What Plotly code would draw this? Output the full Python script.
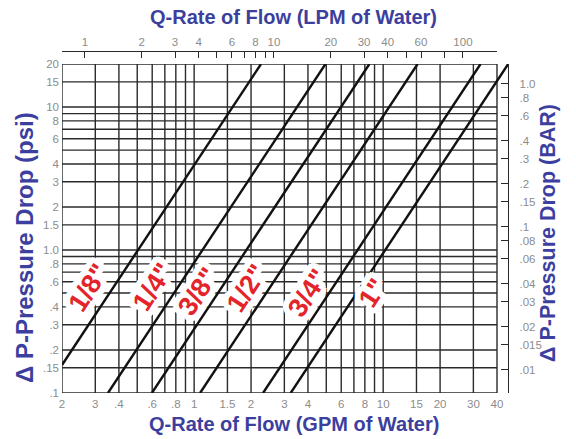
import numpy as np
import plotly.graph_objects as go

GPM_TO_LPM = 3.78541
PSI_TO_BAR = 0.0689476

# chart extents: flow in GPM, pressure drop in psi
q_min, q_max = 0.2, 40
p_min, p_max = 0.1, 20

# pipe sizes and their flow coefficients (dP = (Q / Cv)^2)
sizes = ['1/8"', '1/4"', '3/8"', '1/2"', '3/4"', '1"']
cv = [0.505, 1.107, 1.89, 3.40, 7.32, 10.25]

# grid lines
grid_gpm = [0.2, 0.3, 0.4, 0.5, 0.6, 0.7, 0.8, 0.9, 1, 1.5, 2, 3, 4, 5, 6, 7, 8, 9,
            10, 15, 20, 30, 40]
grid_psi = [0.1, 0.15, 0.2, 0.3, 0.4, 0.5, 0.6, 0.7, 0.8, 0.9, 1, 1.5, 2, 3, 4, 5, 6,
            7, 8, 9, 10, 15, 20]

# tick labels
gpm_ticks = [0.2, 0.3, 0.4, 0.6, 0.8, 1, 1.5, 2, 3, 4, 6, 8, 10, 15, 20, 30, 40]
gpm_labels = ['2', '3', '.4', '.6', '.8', '1', '1.5', '2', '3', '4', '6', '8', '10',
              '15', '20', '30', '40']
psi_ticks = [0.1, 0.15, 0.2, 0.3, 0.4, 0.6, 0.8, 1, 1.5, 2, 3, 4, 6, 8, 10, 15, 20]
psi_labels = ['.1', '.15', '.2', '.3', '.4', '.6', '.8', '1.0', '1.5', '2', '3', '4',
              '6', '8', '10', '15', '20']
lpm_ticks = [1, 2, 3, 4, 5, 6, 7, 8, 9, 10, 20, 30, 40, 50, 60, 80, 100]
lpm_labels = ['1', '2', '3', '4', '', '6', '', '8', '', '10', '20', '30', '40', '',
              '60', '', '100']
bar_ticks = [0.01, 0.015, 0.02, 0.03, 0.04, 0.06, 0.08, 0.1, 0.15, 0.2, 0.3, 0.4,
             0.6, 0.8, 1.0]
bar_labels = ['.01', '.015', '.02', '.03', '.04', '.06', '.08', '.1', '.15', '.2',
              '.3', '.4', '.6', '.8', '1.0']

# where each size label sits: pressure level and sideways offset from its line (px)
label_psi = [0.54, 0.55, 0.51, 0.54, 0.50, 0.50]
label_shift = [-24, -25, -21, -22, -21, 16]

# ---- layout geometry (pixels) ----
W, H = 576, 439
ML, MR, MT, MB = 62, 56, 52, 46
plot_w = W - ML - MR            # 458
plot_h = H - MT - MB            # 341
grid_top_px = 64                # top of the pressure grid
grid_right_px = 497             # right edge of the flow grid (40 GPM)
bar_axis_px = 508               # right-hand BAR scale
x_decade_px = (grid_right_px - ML) / np.log10(q_max / q_min)

y_dom_top = (H - MB - grid_top_px) / plot_h
x_end = np.log10(q_min) + plot_w / x_decade_px

GRID = '#2a2a2a'
BLUE = '#3c3f9e'
GRAY = '#8c8c8c'
RED = '#e3242b'
FONT = 'Liberation Sans, Arial, sans-serif'

fig = go.Figure()

# grid: vertical flow lines and horizontal pressure lines
gx, gy = [], []
for q in grid_gpm:
    gx += [q, q, None]
    gy += [p_min, p_max, None]
for p in grid_psi:
    gx += [q_min, q_max, None]
    gy += [p, p, None]
fig.add_trace(go.Scatter(x=gx, y=gy, mode='lines', line=dict(color=GRID, width=1.4),
                         hoverinfo='skip', showlegend=False))

# pressure-drop lines for each pipe size
for name, c in zip(sizes, cv):
    q0 = max(q_min, c * np.sqrt(p_min))
    q1 = c * np.sqrt(p_max)
    q = np.geomspace(q0, q1, 20)
    fig.add_trace(go.Scatter(x=q, y=(q / c) ** 2, mode='lines', name=name,
                             line=dict(color='#111111', width=2.4),
                             showlegend=False))

# carriers for the LPM and BAR scales
fig.add_trace(go.Scatter(x=[None], y=[None], xaxis='x2', yaxis='y3',
                         showlegend=False, hoverinfo='skip'))
fig.add_trace(go.Scatter(x=[None], y=[None], xaxis='x3', yaxis='y2',
                         showlegend=False, hoverinfo='skip'))

# white halo behind the size labels
halo_pts = []
for r in (2, 4, 6):
    for k in range(16):
        a = 2 * np.pi * k / 16
        halo_pts.append(f'{r * np.cos(a):.1f}px {r * np.sin(a):.1f}px 0 #ffffff')
halo = ', '.join(halo_pts)

annotations = []
for name, c, p, sh in zip(sizes, cv, label_psi, label_shift):
    annotations.append(dict(
        x=np.log10(c * np.sqrt(p)), y=np.log10(p), xref='x', yref='y',
        xanchor='center', yanchor='middle',
        text=f'<b>{name}</b>', showarrow=False, textangle=-57, xshift=sh,
        font=dict(family=FONT, size=27, color=RED, shadow=halo)))


def px_x(px):
    return (px - ML) / plot_w


def px_y(py):
    return (H - MB - py) / plot_h


def title(text, x, y, size, angle=0):
    return dict(text=f'<b>{text}</b>', x=px_x(x), y=px_y(y), xref='paper',
                yref='paper', xanchor='center', yanchor='middle', showarrow=False,
                textangle=angle, font=dict(family=FONT, size=size, color=BLUE))


annotations += [
    title('Q-Rate of Flow (LPM of Water)', 293, 17, 20),
    title('Q-Rate of Flow (GPM of Water)', 294, 424, 20),
    title('\u0394 P-Pressure Drop (psi)', 25, 248, 24, -90),
    title('\u0394 P-Pressure Drop (BAR)', 548, 233, 21.5, -90),
]

tick_font = dict(family=FONT, size=11.5, color=GRAY)

fig.update_layout(
    width=W, height=H, margin=dict(l=ML, r=MR, t=MT, b=MB),
    paper_bgcolor='white', plot_bgcolor='rgba(0,0,0,0)',
    annotations=annotations,
    xaxis=dict(type='log', range=[np.log10(q_min), x_end], domain=[0, 1],
               anchor='y', showgrid=False, zeroline=False, showline=False, ticks='',
               tickvals=gpm_ticks, ticktext=gpm_labels, tickfont=tick_font,
               ticklabelstandoff=2),
    yaxis=dict(type='log', range=[np.log10(p_min), np.log10(p_max)],
               domain=[0, y_dom_top], anchor='x', showgrid=False, zeroline=False,
               showline=False, ticks='', tickvals=psi_ticks, ticktext=psi_labels,
               tickfont=tick_font, ticklabelstandoff=2),
    xaxis2=dict(type='log', anchor='y3', side='top',
                domain=[0, (grid_right_px - ML) / plot_w],
                range=[np.log10(q_min * GPM_TO_LPM), np.log10(q_max * GPM_TO_LPM)],
                showgrid=False, zeroline=False, showline=True, linecolor=GRID,
                linewidth=1.4, ticks='inside', ticklen=6, tickwidth=1.4,
                tickcolor=GRID,
                tickvals=[q_min * GPM_TO_LPM] + lpm_ticks + [q_max * GPM_TO_LPM],
                ticktext=[''] + lpm_labels + [''], tickfont=tick_font),
    yaxis3=dict(domain=[y_dom_top, 1], anchor='x2', visible=False),
    xaxis3=dict(domain=[px_x(grid_right_px), px_x(bar_axis_px)], anchor='y2',
                visible=False),
    yaxis2=dict(type='log', anchor='x3', side='right', domain=[0, y_dom_top],
                range=[np.log10(p_min * PSI_TO_BAR), np.log10(p_max * PSI_TO_BAR)],
                showgrid=False, zeroline=False, showline=True, linecolor=GRID,
                linewidth=1.4, ticks='inside', ticklen=7, tickwidth=1.4,
                tickcolor=GRID,
                tickvals=[p_min * PSI_TO_BAR] + bar_ticks + [p_max * PSI_TO_BAR],
                ticktext=[''] + bar_labels + [''], tickfont=tick_font,
                ticklabelstandoff=8),
)

fig.write_html('out.html')
